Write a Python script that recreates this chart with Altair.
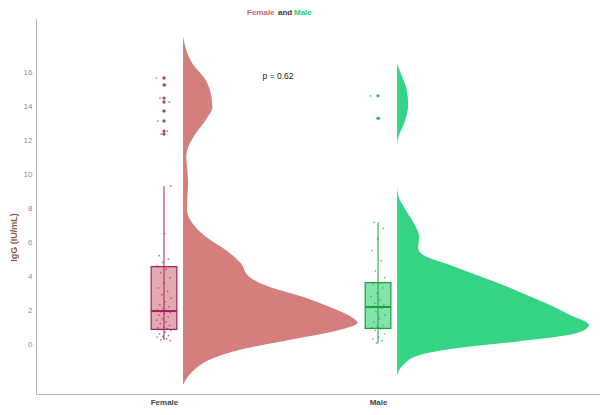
import altair as alt
import pandas as pd

# ---------------- data ----------------
groups = ["Female", "Male"]
group_pos = [1, 2]

# density outline (value, density)
female_dens_y = [18.08, 16.51, 15.53, 14.55, 13.96, 13.18, 12.39, 11.61, 11.02, 10.24, 9.45, 8.66, 7.88,
                 7.10, 6.31, 5.53, 4.75, 3.96, 3.37, 2.78, 2.19, 1.61, 1.25, 0.82, 0.24, -0.35, -0.94,
                 -1.53, -2.12, -2.41]
female_dens = [0.0, 0.0097, 0.0236, 0.0295, 0.0305, 0.0236, 0.0132, 0.0055, 0.0034, 0.0045, 0.0052,
               0.0045, 0.0042, 0.0097, 0.0236, 0.0445, 0.0601, 0.0688, 0.0896, 0.1243, 0.1521, 0.1747,
               0.1816, 0.1625, 0.1104, 0.0583, 0.0271, 0.0115, 0.0028, 0.0]
male_dens_y = [16.51, 15.82, 15.04, 14.06, 13.08, 12.29, 11.70, 9.35, 8.76, 7.98, 7.00, 6.31, 5.63,
               5.24, 4.65, 4.06, 3.47, 2.88, 2.29, 1.71, 1.12, 0.63, 0.14, -0.25, -0.65, -1.24, -1.82]
male_dens = [0.0, 0.0045, 0.0097, 0.0115, 0.0080, 0.0021, 0.0, 0.0, 0.0010, 0.0080, 0.0184, 0.0229,
             0.0219, 0.0271, 0.0549, 0.0826, 0.1104, 0.1347, 0.1591, 0.1799, 0.1997, 0.1865, 0.1240,
             0.0615, 0.0236, 0.0063, 0.0]

# box statistics: lower whisker, q1, median, q3, upper whisker
box_lo = [0.24, 0.04]
box_q1 = [0.86, 0.92]
box_med = [1.94, 2.18]
box_q3 = [4.55, 3.61]
box_hi = [9.29, 7.16]

# outliers
female_out = [15.65, 15.24, 14.47, 14.24, 13.71, 13.12, 12.53, 12.35]
male_out = [14.60, 13.28]

# individual observations (jittered dots)
female_vals = [15.65, 15.24, 14.47, 14.24, 13.71, 13.12, 12.53, 12.35, 9.3, 6.5, 5.2, 5.0, 4.8, 4.6,
               4.4, 4.2, 3.9, 3.6, 3.3, 3.1, 2.9, 2.7, 2.5, 2.3, 2.2, 2.1, 2.0, 1.95, 1.9, 1.85, 1.8,
               1.7, 1.6, 1.5, 1.4, 1.3, 1.2, 1.1, 1.0, 0.95, 0.9, 0.85, 0.8, 0.7, 0.6, 0.5, 0.45, 0.4,
               0.3, 0.25, 0.2]
male_vals = [14.6, 13.28, 7.16, 6.8, 6.2, 5.5, 4.9, 4.3, 3.9, 3.6, 3.5, 3.3, 3.0, 2.8, 2.6, 2.4, 2.3,
             2.2, 2.18, 2.1, 1.9, 1.7, 1.5, 1.3, 1.1, 1.0, 0.95, 0.9, 0.8, 0.6, 0.4, 0.3, 0.2, 0.05]

p_label = "p = 0.62"

# ---------------- styling ----------------
FILL = {"Female": "#d47e7d", "Male": "#35d485"}
BOXFILL = {"Female": "#e3aab0", "Male": "#83e3aa"}
DARK = {"Female": "#a3215e", "Male": "#1f9e3c"}
FONT = "Liberation Sans"
DENS_OFFSET = 0.089
DENS_SCALE = 4.49
HALF_BOX = 0.06

# ---------------- tables ----------------
rows = []
for g, pos, yv, ds in [("Female", 1, female_dens_y, female_dens), ("Male", 2, male_dens_y, male_dens)]:
    for y, d in zip(yv, ds):
        rows.append({"group": g, "y": y, "x0": pos + DENS_OFFSET, "x1": pos + DENS_OFFSET + d * DENS_SCALE})
dens_df = pd.DataFrame(rows)

box_df = pd.DataFrame({
    "group": groups, "pos": group_pos,
    "left": [p - HALF_BOX for p in group_pos], "right": [p + HALF_BOX for p in group_pos],
    "lo": box_lo, "q1": box_q1, "med": box_med, "q3": box_q3, "hi": box_hi,
})

pts = []
for g, pos, vals in [("Female", 1, female_vals), ("Male", 2, male_vals)]:
    for i, v in enumerate(vals):
        jit = (((i * 0.6180339887) % 1.0) - 0.5) * 0.07
        pts.append({"group": g, "x": pos + jit, "y": v})
pts_df = pd.DataFrame(pts)

out_df = pd.DataFrame({"group": ["Female"] * len(female_out) + ["Male"] * len(male_out),
                       "x": [1] * len(female_out) + [2] * len(male_out),
                       "y": female_out + male_out})

xs = alt.Scale(domain=[0.402, 3.037], nice=False, zero=False)
ys = alt.Scale(domain=[-2.94, 19.18], nice=False, zero=False)

fill_scale = alt.Scale(domain=groups, range=[FILL[g] for g in groups])
boxfill_scale = alt.Scale(domain=groups, range=[BOXFILL[g] for g in groups])
dark_scale = alt.Scale(domain=groups, range=[DARK[g] for g in groups])

x_axis = alt.Axis(values=[1, 2], labelExpr="datum.value == 1 ? 'Female' : 'Male'", title=None,
                  grid=False, ticks=False, domainColor="#b5b5b5", labelColor="#444444",
                  labelFontWeight="bold", labelFontSize=8, labelFont=FONT, labelPadding=4)
y_axis = alt.Axis(values=list(range(0, 17, 2)), title="IgG (IU/mL)", grid=False, ticks=False,
                  domainColor="#b5b5b5", labelColor="#7f8fa6", labelFontSize=8, labelFont=FONT,
                  labelPadding=4, titleColor="#8a5a4c", titleFontSize=9, titleFont=FONT,
                  titleFontWeight="bold", titleX=-18, titleY=219)

dens = alt.Chart(dens_df).mark_area(orient="horizontal", interpolate="monotone").encode(
    y=alt.Y("y:Q", scale=ys, axis=y_axis),
    x=alt.X("x0:Q", scale=xs, axis=x_axis),
    x2="x1:Q",
    color=alt.Color("group:N", scale=fill_scale, legend=None),
    detail="group:N",
)

box = alt.Chart(box_df).mark_rect(strokeWidth=1.2).encode(
    x=alt.X("left:Q", scale=xs), x2="right:Q",
    y=alt.Y("q1:Q", scale=ys), y2="q3:Q",
    fill=alt.Fill("group:N", scale=boxfill_scale, legend=None),
    stroke=alt.Stroke("group:N", scale=dark_scale, legend=None),
)

whisk = alt.Chart(box_df).mark_rule(strokeWidth=1).encode(
    x=alt.X("pos:Q", scale=xs),
    y=alt.Y("lo:Q", scale=ys), y2="hi:Q",
    stroke=alt.Stroke("group:N", scale=dark_scale, legend=None),
)

med = alt.Chart(box_df).mark_rule(strokeWidth=2).encode(
    x=alt.X("left:Q", scale=xs), x2="right:Q",
    y=alt.Y("med:Q", scale=ys),
    stroke=alt.Stroke("group:N", scale=dark_scale, legend=None),
)

dots = alt.Chart(pts_df).mark_circle(size=3, opacity=0.65).encode(
    x=alt.X("x:Q", scale=xs), y=alt.Y("y:Q", scale=ys),
    fill=alt.Fill("group:N", scale=dark_scale, legend=None),
)

outs = alt.Chart(out_df).mark_circle(size=11, opacity=0.85).encode(
    x=alt.X("x:Q", scale=xs), y=alt.Y("y:Q", scale=ys),
    fill=alt.Fill("group:N", scale=dark_scale, legend=None),
)

ptext = alt.Chart(pd.DataFrame({"x": [1.533], "y": [15.76], "t": [p_label]})).mark_text(
    font=FONT, fontSize=8.5, color="#222222").encode(
    x=alt.X("x:Q", scale=xs), y=alt.Y("y:Q", scale=ys), text="t:N")

title_parts = ["Female", "and", "Male"]
title_colors = ["#c8686c", "#333333", "#2ecc71"]
title_x = [211, 242, 258]
title_layers = [
    alt.Chart(pd.DataFrame({"t": [t]})).mark_text(
        font=FONT, fontSize=8, fontWeight="bold", color=c, align="left", baseline="middle").encode(
        x=alt.value(xp), y=alt.value(-5), text="t:N")
    for t, c, xp in zip(title_parts, title_colors, title_x)
]

chart = alt.layer(dens, box, whisk, med, dots, outs, ptext, *title_layers).resolve_scale(
    color="independent", fill="independent", stroke="independent"
).properties(
    width=564, height=376,
    autosize=alt.AutoSizeParams(type="none"),
    padding={"left": 28, "top": 10, "right": 0, "bottom": 13},
    background="white",
).configure_view(stroke=None)

chart.save("out.html", embed_options={"renderer": "svg", "actions": False})
